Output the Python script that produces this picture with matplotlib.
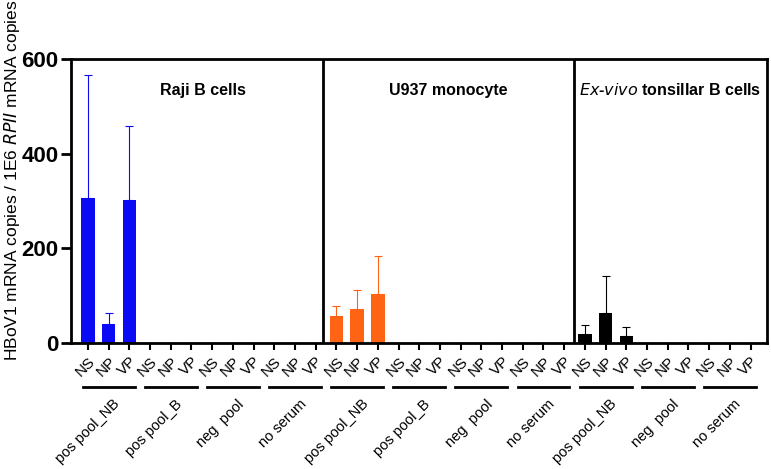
import matplotlib.pyplot as plt
from matplotlib import transforms

plt.rcParams['font.family'] = ['Liberation Sans', 'DejaVu Sans']

# data
panels = ["Raji B cells", "U937 monocyte", "$\\it{Ex}$-$\\it{vivo}$ tonsillar B cells"]
panel_colors = ["#0A0AF5", "#FF6414", "#000000"]
panel_groups = [
    ["pos pool_NB", "pos pool_B", "neg  pool", "no serum"],
    ["pos pool_NB", "pos pool_B", "neg  pool", "no serum"],
    ["pos pool_NB", "neg  pool", "no serum"],
]
samples = ["NS", "NP", "VP"]
raji_means = [307, 40, 302, 0, 0, 0, 0, 0, 0, 0, 0, 0]
raji_err = [259, 23, 156, 0, 0, 0, 0, 0, 0, 0, 0, 0]
u937_means = [56, 71, 103, 0, 0, 0, 0, 0, 0, 0, 0, 0]
u937_err = [22, 41, 81, 0, 0, 0, 0, 0, 0, 0, 0, 0]
exvivo_means = [18, 64, 15, 0, 0, 0, 0, 0, 0]
exvivo_err = [19, 77, 18, 0, 0, 0, 0, 0, 0]
yticks = [0, 200, 400, 600]

means = [raji_means, u937_means, exvivo_means]
errs = [raji_err, u937_err, exvivo_err]

fig = plt.figure(figsize=(7.71, 4.69), dpi=100)
ax = fig.add_axes([0.092, 0.2687, 0.903, 0.6056])

x0 = 0
labels = []
seps = []
group_spans = []
for p in range(3):
    n = len(means[p])
    xs = list(range(x0, x0 + n))
    ax.bar(xs, means[p], width=0.65, color=panel_colors[p], zorder=2)
    ax.errorbar(xs, means[p], yerr=[[0] * n, errs[p]], fmt='none',
                ecolor=panel_colors[p], elinewidth=0.8, capsize=3, capthick=0.8, zorder=1)
    for g, name in enumerate(panel_groups[p]):
        group_spans.append((x0 + 3 * g, x0 + 3 * g + 2, name))
        labels += samples
    x0 += n
    if p < 2:
        seps.append(x0 - 0.65 + 0.1 * p)

ax.set_xlim(-0.82, x0 - 1 + 0.8)
ax.set_ylim(0, 600)
ax.set_yticks(yticks)
ax.set_xticks(range(x0))
ax.set_xticklabels(labels, rotation=45, ha='right', rotation_mode='anchor', fontsize=11)
for lab in ax.get_yticklabels():
    lab.set_fontweight('bold')
    lab.set_fontsize(16)
ax.tick_params(axis='y', length=7, width=2, pad=2)
ax.tick_params(axis='x', length=5, width=1.5, pad=3)
for s in ax.spines.values():
    s.set_linewidth(2)

for sx in seps:
    ax.axvline(sx, color='black', lw=2)

title_x = [(-0.82 + seps[0]) / 2 + 0.3, (seps[0] + seps[1]) / 2, (seps[1] + x0 - 0.2) / 2]
for p in range(3):
    ax.text(title_x[p], 0.89, panels[p], transform=ax.get_xaxis_transform(),
            ha='center', va='center', fontsize=11.5, fontweight='bold')

trans = transforms.blended_transform_factory(ax.transData, ax.transAxes)
for a, b, name in group_spans:
    ax.plot([a - 0.25, b + 0.25], [-0.155, -0.155], color='black', lw=2,
            transform=trans, clip_on=False)
    ax.text((a + b) / 2 + 0.2, -0.19, name, transform=trans, rotation=45,
            ha='right', va='top', rotation_mode='anchor', fontsize=10.5)

fig.text(0.016, 0.615, "HBoV1 mRNA copies / 1E6 $\\it{RPII}$ mRNA copies",
         rotation=90, ha='center', va='center', fontsize=12.5)

fig.savefig("out.png", dpi=100)
